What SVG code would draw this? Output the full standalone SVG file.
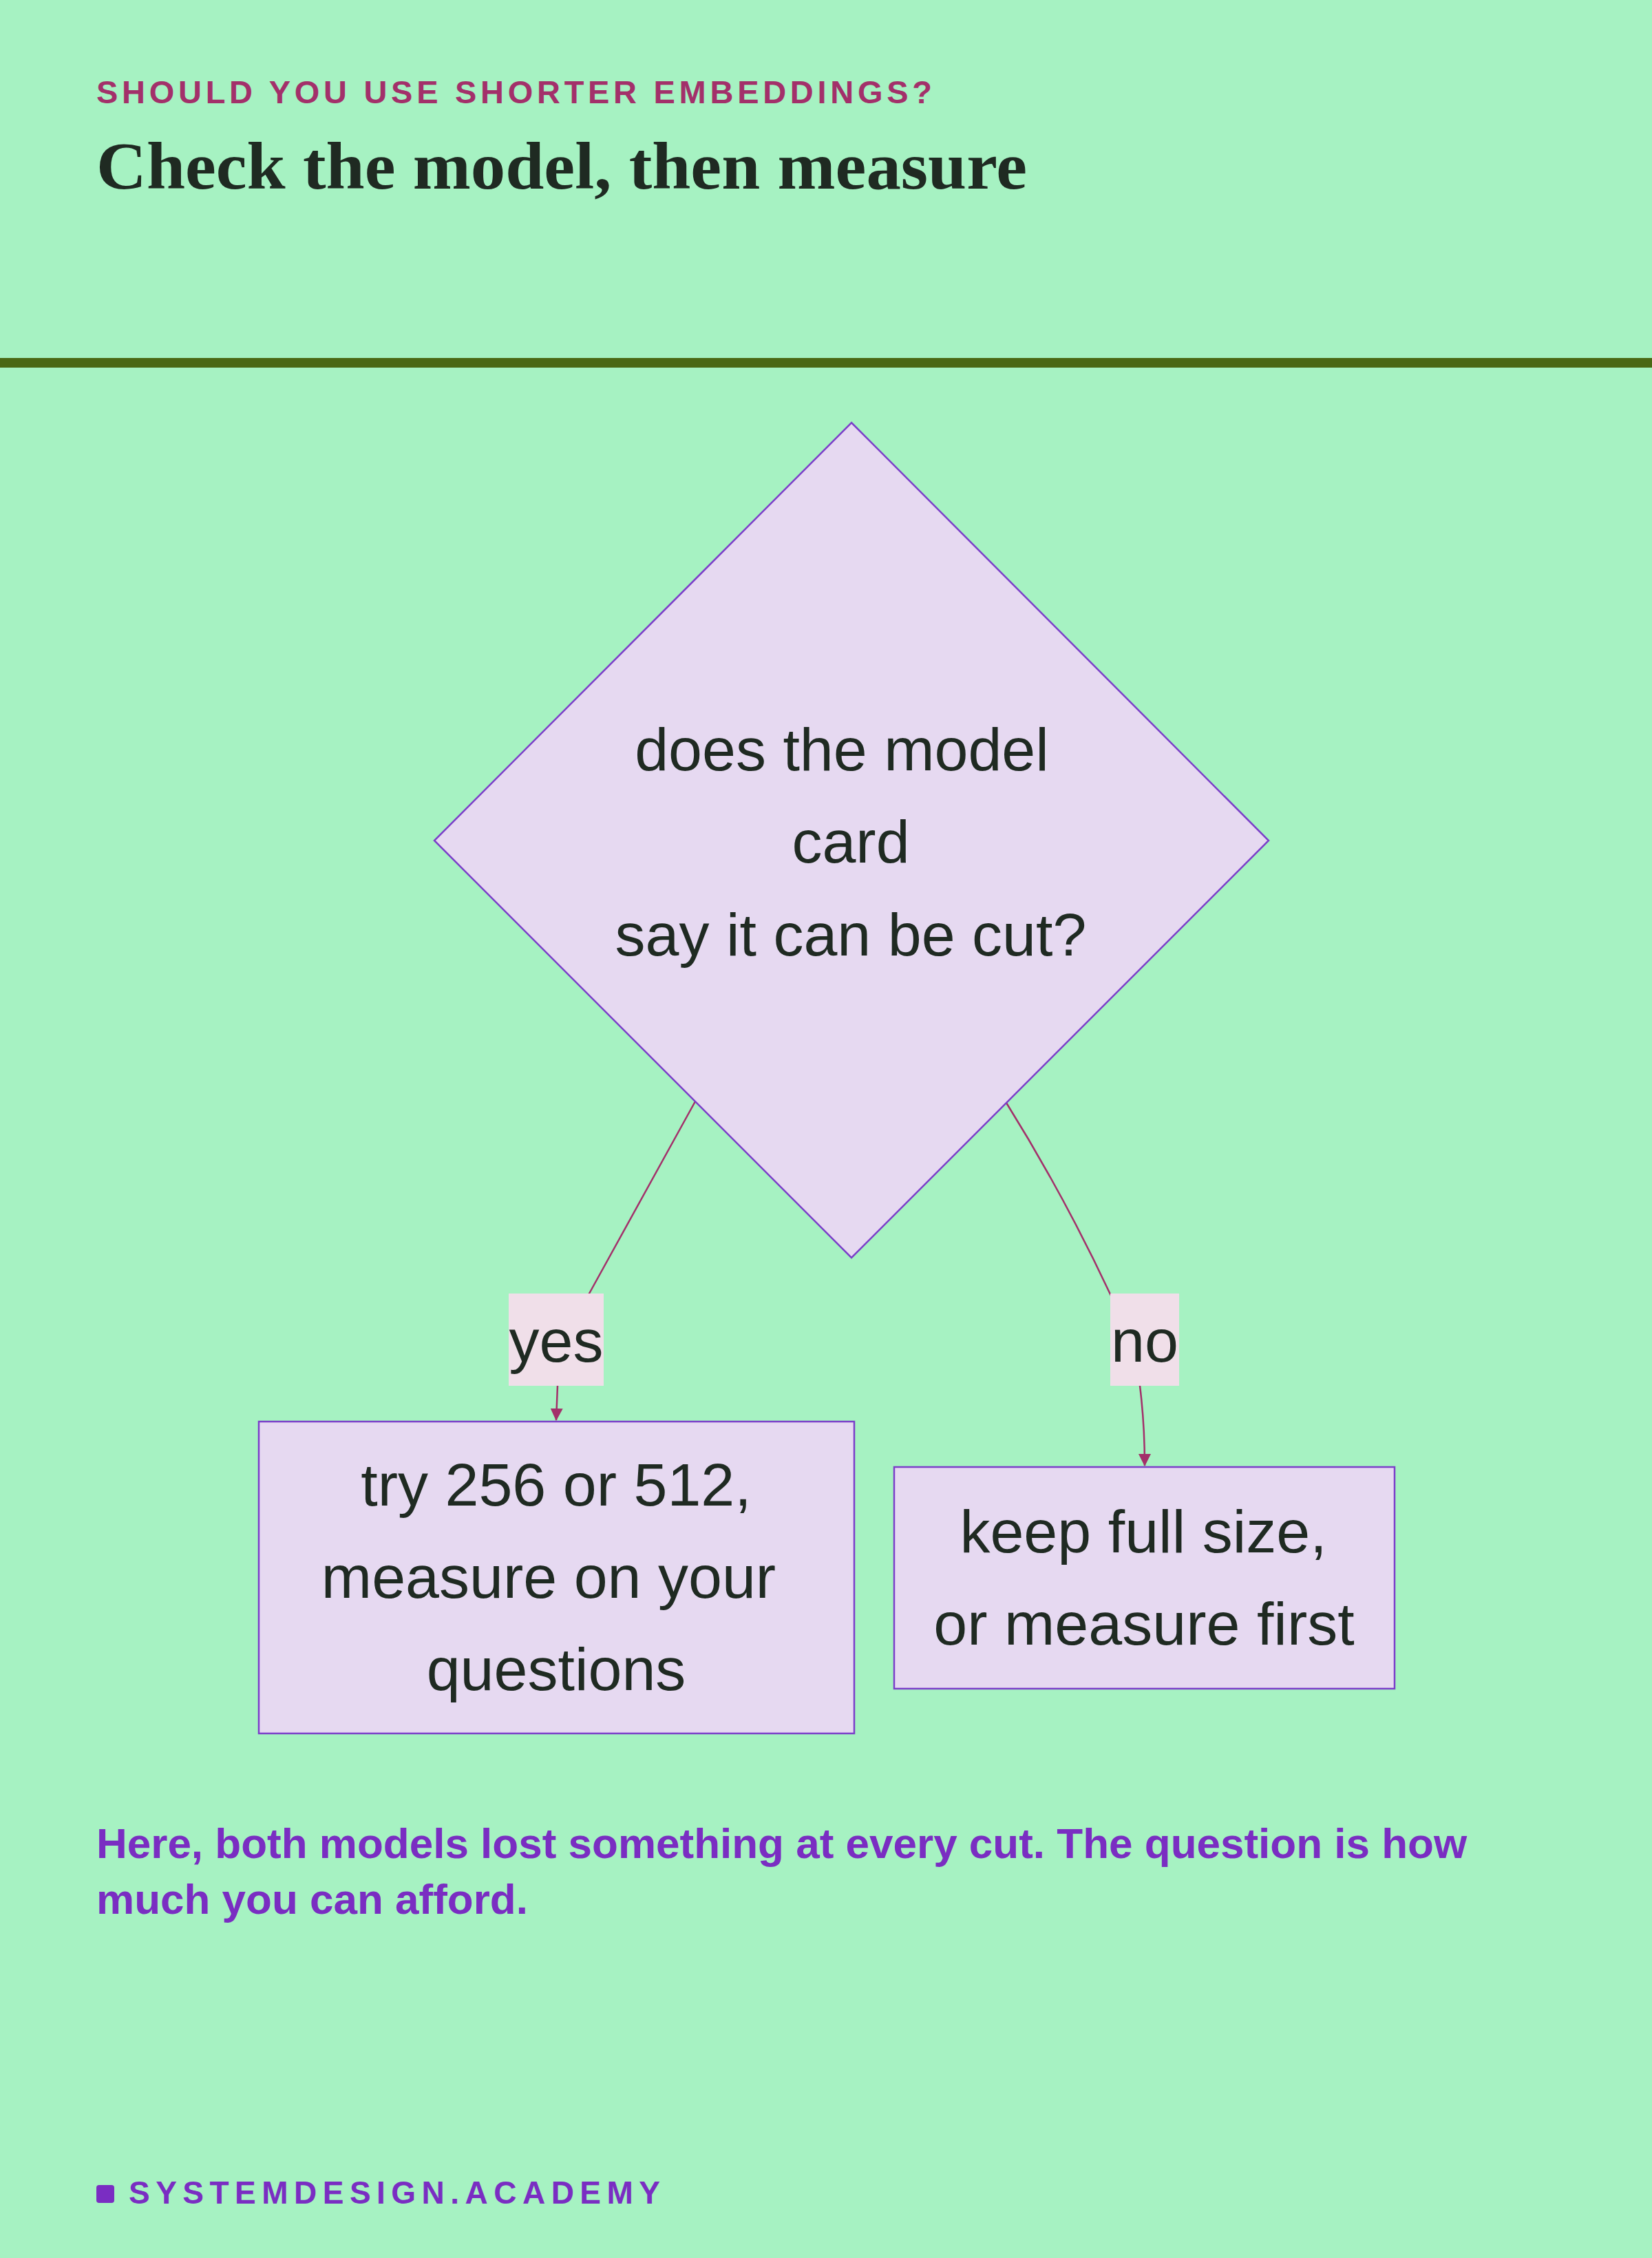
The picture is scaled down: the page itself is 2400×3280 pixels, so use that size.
<svg xmlns="http://www.w3.org/2000/svg" width="2400" height="3280" viewBox="0 0 2400 3280">
  <defs>
    <style>
      .sans { font-family: "Liberation Sans", Arial, sans-serif; }
      .node { fill: #e6d9f1; stroke: #7b3fc9; stroke-width: 2.5; }
      .ntext { font-family: "Liberation Sans", Arial, sans-serif; font-size: 88px; fill: #1f2a22; text-anchor: middle; }
      .edge { fill: none; stroke: #a3306a; stroke-width: 2.5; }
      .lbl { fill: #f0dfe9; }
    </style>
    <marker id="arrow" markerUnits="userSpaceOnUse" markerWidth="18" markerHeight="18" viewBox="0 0 18 18" refX="17" refY="9" orient="auto">
      <path d="M0,0 L18,9 L0,18 Z" fill="#a3306a"/>
    </marker>
  </defs>

  <rect x="0" y="0" width="2400" height="3280" fill="#a6f2c2"/>

  <g id="header">
    <text x="140" y="150" class="sans" font-size="47" font-weight="bold" fill="#a3306a" textLength="1214" lengthAdjust="spacing">SHOULD YOU USE SHORTER EMBEDDINGS?</text>
    <text x="140" y="274" font-family="'Liberation Serif', 'Times New Roman', serif" font-size="98" font-weight="bold" fill="#1f2a22" textLength="1352" lengthAdjust="spacingAndGlyphs">Check the model, then measure</text>
    <rect x="0" y="520" width="2400" height="14" fill="#4a6814"/>
  </g>

  <g id="connectors">
    <path class="edge" d="M1010,1600 L856,1879 Q812,1956 810,2013 L808,2063" marker-end="url(#arrow)"/>
    <path class="edge" d="M1462,1602 Q1545,1735 1613,1880 Q1652,1950 1656,2013 C1660,2045 1663,2085 1663,2129" marker-end="url(#arrow)"/>
  </g>

  <g id="decision">
    <polygon class="node" stroke-width="2" points="1237,614 1843,1221 1237,1827 631,1221"/>
    <text class="ntext" x="1223" y="1119">does the model</text>
    <text class="ntext" x="1236" y="1253">card</text>
    <text class="ntext" x="1236" y="1388">say it can be cut?</text>
  </g>

  <g id="label-yes">
    <rect class="lbl" x="739" y="1879" width="138" height="134"/>
    <text class="ntext" x="808" y="1978">yes</text>
  </g>

  <g id="label-no">
    <rect class="lbl" x="1613" y="1879" width="100" height="134"/>
    <text class="ntext" x="1663" y="1978">no</text>
  </g>

  <g id="node-yes">
    <rect class="node" x="376" y="2065" width="865" height="453"/>
    <text class="ntext" x="808" y="2187">try 256 or 512,</text>
    <text class="ntext" x="797" y="2321">measure on your</text>
    <text class="ntext" x="808" y="2455">questions</text>
  </g>

  <g id="node-no">
    <rect class="node" x="1299" y="2131" width="727" height="322"/>
    <text class="ntext" x="1661" y="2255">keep full size,</text>
    <text class="ntext" x="1662" y="2389">or measure first</text>
  </g>

  <g id="caption">
    <text x="140" y="2699" class="sans" font-size="62" font-weight="bold" fill="#7a2dc2">Here, both models lost something at every cut. The question is how</text>
    <text x="140" y="2780" class="sans" font-size="62" font-weight="bold" fill="#7a2dc2">much you can afford.</text>
  </g>

  <g id="footer">
    <rect x="140" y="3174" width="26" height="26" rx="4" fill="#7a2dc2"/>
    <text x="187" y="3201" class="sans" font-size="46" font-weight="bold" fill="#7a2dc2" textLength="772" lengthAdjust="spacing">SYSTEMDESIGN.ACADEMY</text>
  </g>
</svg>
